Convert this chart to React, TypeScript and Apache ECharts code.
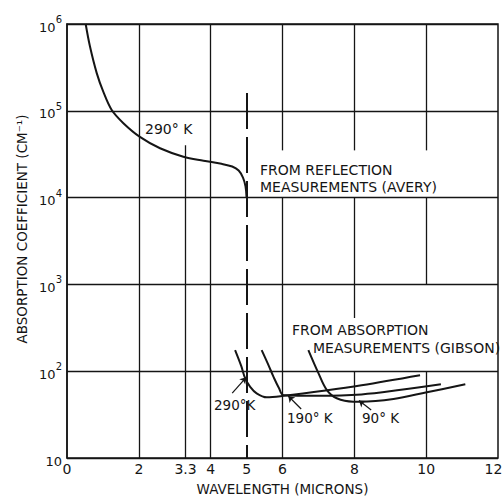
import React, { useEffect, useRef } from "react";
import * as echarts from "echarts";

// ---- data ----
const xTickValues = [0, 2, 3.3, 4, 5, 6, 8, 10, 12];
const yMin = 10;
const yMax = 1e6;

// Avery (reflection) 290 K curve: [wavelength, coefficient]
const averyCurve: [number, number][] = [
  [0.52, 1e6], [0.64, 5.5e5], [0.83, 2.7e5], [1.01, 1.66e5], [1.245, 1.02e5],
  [1.57, 7.2e4], [2.03, 5.0e4], [2.59, 3.7e4], [3.24, 2.96e4], [3.8, 2.66e4],
  [4.3, 2.45e4], [4.6, 2.28e4], [4.78, 2.05e4], [4.9, 1.7e4], [4.97, 1.35e4],
  [5.0, 1.0e4],
];

// Gibson (absorption) curves
const gibson290: [number, number][] = [
  [4.68, 175], [4.85, 115], [4.96, 83], [5.1, 66], [5.28, 55.6], [5.56, 50],
  [6.03, 52], [7.2, 60], [8.2, 69], [9.83, 90],
];
const gibson190: [number, number][] = [
  [5.42, 175], [5.6, 120], [5.75, 86], [5.9, 64], [6.03, 53], [7.0, 52],
  [8.2, 54], [9.3, 61], [10.41, 70.6],
];
const gibson90: [number, number][] = [
  [6.72, 175], [7.0, 95], [7.23, 61], [7.51, 48.8], [7.97, 44.6], [8.16, 44.6],
  [9.09, 47.9], [10.02, 57.2], [11.09, 70.6],
];

// vertical grid segments: [x, yFrom, yTo]
const vGridSegments: [number, number, number][] = [
  [2, 10, 1e6], [3.3, 10, 4e4], [4, 10, 1e6],
  [6, 10, 1e4], [6, 3.5e4, 1e6],
  [8, 10, 100], [8, 1e4, 410], [8, 3.5e4, 1e6],
  [10, 10, 100], [10, 1e3, 1e4], [10, 3.5e4, 1e6],
];
const dashedSegment: [number, number, number] = [5, 1.6e5, 10];

// leader arrows: [[xTail, yTail], [xTip, yTip]]
const leaderArrows: [[number, number], [number, number]][] = [
  [[4.6, 56], [4.99, 85]],
  [[6.52, 36.7], [6.16, 51.8]],
  [[8.47, 35.7], [8.13, 45.9]],
];

const INK = "#151515";
const FONT = "DejaVu Sans";

export default function App() {
  const ref = useRef<HTMLDivElement>(null);
  useEffect(() => {
    if (!ref.current) return;
    const chart = echarts.init(ref.current, undefined, { renderer: "svg" });
    const curveSeries = (data: [number, number][]) => ({
      type: "line",
      data,
      showSymbol: false,
      smooth: 0.35,
      lineStyle: { color: INK, width: 2 },
      silent: true,
      z: 5,
    });
    const textStyle = (fs: number) => ({ fill: INK, fontSize: fs, fontFamily: FONT });
    chart.setOption({
      animation: false,
      backgroundColor: "#ffffff",
      grid: {
        left: 67, right: 6, top: 24, bottom: 38,
        outerBoundsMode: "none",
        containLabel: false,
        show: true, borderColor: INK, borderWidth: 1.5,
      },
      xAxis: {
        type: "value",
        min: 0,
        max: 12,
        name: "WAVELENGTH (MICRONS)",
        nameLocation: "middle",
        nameGap: 24,
        nameTextStyle: { color: INK, fontSize: 13.5, fontFamily: FONT },
        axisLine: { show: false },
        axisTick: { show: false },
        splitLine: { show: false },
        axisLabel: {
          customValues: xTickValues,
          showMinLabel: true,
          showMaxLabel: true,
          hideOverlap: false,
          margin: 4,
          color: INK,
          fontSize: 14,
          fontFamily: FONT,
          formatter: (v: number) => (v === 12 ? "{m|12}" : String(v)),
          rich: {
            m: { fontSize: 14, fontFamily: FONT, color: INK, padding: [0, 9, 0, 0] },
          },
        },
      },
      yAxis: {
        type: "log",
        logBase: 10,
        min: yMin,
        max: yMax,
        axisLine: { show: true, lineStyle: { color: INK, width: 1.5 } },
        axisTick: { show: false },
        splitLine: { show: true, lineStyle: { color: INK, width: 1.3 } },
        axisLabel: {
          margin: 5,
          color: INK,
          fontSize: 13,
          fontFamily: FONT,
          formatter: (v: number) => {
            const e = Math.round(Math.log10(v));
            return e === 1 ? "{b|10}" : "{b|10}{s|" + e + "}";
          },
          rich: {
            b: { fontSize: 13, fontFamily: FONT, color: INK, padding: [6, 0, 0, 0] },
            s: { fontSize: 10, fontFamily: FONT, color: INK, verticalAlign: "top" },
          },
        },
      },
      series: [
        {
          type: "line",
          data: [],
          silent: true,
          markLine: {
            silent: true,
            symbol: ["none", "none"],
            label: { show: false },
            lineStyle: { color: INK, width: 1.3, type: "solid" },
            data: vGridSegments.map(([x, a, b]) => [
              { coord: [x, a] },
              { coord: [x, b] },
            ]),
          },
        },
        {
          type: "line",
          data: [],
          silent: true,
          markLine: {
            silent: true,
            symbol: ["none", "none"],
            label: { show: false },
            lineStyle: { color: INK, width: 2, type: [36, 8] },
            data: [[
              { coord: [dashedSegment[0], dashedSegment[1]] },
              { coord: [dashedSegment[0], dashedSegment[2]] },
            ]],
          },
        },
        {
          type: "line",
          data: [],
          silent: true,
          markLine: {
            silent: true,
            symbol: ["none", "arrow"],
            symbolSize: 6,
            label: { show: false },
            lineStyle: { color: INK, width: 1.2, type: "solid" },
            itemStyle: { color: INK },
            data: leaderArrows.map(([t, h]) => [{ coord: t }, { coord: h }]),
          },
        },
        curveSeries(averyCurve),
        curveSeries(gibson290),
        curveSeries(gibson190),
        curveSeries(gibson90),
      ],
      graphic: [
        {
          type: "text", x: 22, y: 229, rotation: Math.PI / 2,
          style: { ...textStyle(13.5), text: "ABSORPTION COEFFICIENT (CM⁻¹)", align: "center", verticalAlign: "middle" },
        },
        { type: "text", x: 145, y: 129, style: { ...textStyle(14), text: "290° K", verticalAlign: "middle" } },
        { type: "text", x: 260, y: 170, style: { ...textStyle(14), text: "FROM REFLECTION", verticalAlign: "middle" } },
        { type: "text", x: 260, y: 187, style: { ...textStyle(14), text: "MEASUREMENTS (AVERY)", verticalAlign: "middle" } },
        { type: "text", x: 292, y: 330, style: { ...textStyle(14), text: "FROM ABSORPTION", verticalAlign: "middle" } },
        { type: "text", x: 313, y: 348, style: { ...textStyle(14), text: "MEASUREMENTS (GIBSON)", verticalAlign: "middle" } },
        { type: "text", x: 214, y: 405, style: { ...textStyle(13.5), text: "290°K", verticalAlign: "middle" } },
        { type: "text", x: 287, y: 418, style: { ...textStyle(13.5), text: "190° K", verticalAlign: "middle" } },
        { type: "text", x: 362, y: 418, style: { ...textStyle(13.5), text: "90° K", verticalAlign: "middle" } },
      ],
    });
    return () => chart.dispose();
  }, []);
  return (
    <div
      ref={ref}
      style={{ position: "fixed", left: 0, top: 0, width: 504, height: 496, background: "#fff" }}
    />
  );
}
